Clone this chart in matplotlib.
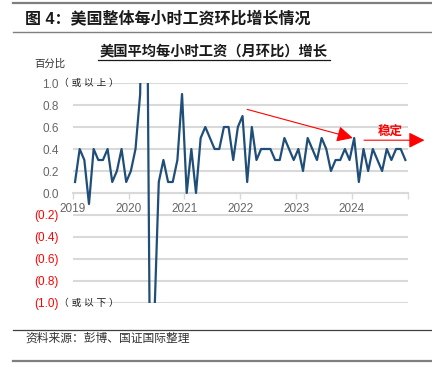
"""
美国整体每小时工资环比增长情况（2019-2024 月度）
"""

import numpy as np
import matplotlib
matplotlib.use("Agg")  # 非交互式后端
import matplotlib.pyplot as plt

plt.rcParams["font.family"] = ["Liberation Sans", "Noto Sans CJK SC", "DejaVu Sans"]

# ========== 数据 ==========

YEARS = ["2019", "2020", "2021", "2022", "2023", "2024"]

# 月环比（%），2019-01 ~ 2024-12
WAGE_MOM = [
    0.1, 0.4, 0.3, -0.1, 0.4, 0.3, 0.3, 0.4, 0.1, 0.2, 0.4, 0.1,   # 2019
    0.2, 0.4, 0.9, 4.7, -1.0, -1.2, 0.1, 0.3, 0.1, 0.1, 0.3, 0.9,  # 2020
    0.0, 0.4, 0.0, 0.5, 0.6, 0.5, 0.4, 0.4, 0.6, 0.6, 0.3, 0.6,    # 2021
    0.7, 0.1, 0.6, 0.3, 0.4, 0.4, 0.4, 0.3, 0.3, 0.5, 0.4, 0.3,    # 2022
    0.4, 0.2, 0.5, 0.4, 0.3, 0.5, 0.4, 0.2, 0.3, 0.3, 0.4, 0.3,    # 2023
    0.5, 0.1, 0.4, 0.2, 0.4, 0.3, 0.2, 0.4, 0.3, 0.4, 0.4, 0.3,    # 2024
]

Y_TICKS = [-1.0, -0.8, -0.6, -0.4, -0.2, 0.0, 0.2, 0.4, 0.6, 0.8, 1.0]

LINE_COLOR = "#1F4E79"
GRID_COLOR = "#D9D9D9"
LABEL_GRAY = "#666666"
RED = "#FF0000"

# ========== 画布 ==========

W, H = 432, 368
fig = plt.figure(figsize=(W / 100, H / 100), dpi=100)


def fx(px):
    return px / W


def fy(py):
    return 1 - py / H


# 页眉 / 页脚横线
fig.add_artist(plt.Line2D([fx(13), 1], [fy(3), fy(3)], color="#7F7F7F", lw=1.6))
fig.add_artist(plt.Line2D([fx(13), 1], [fy(32), fy(32)], color="#7F7F7F", lw=1.0))
fig.add_artist(plt.Line2D([fx(13), 1], [fy(330), fy(330)], color="#404040", lw=0.9))
fig.add_artist(plt.Line2D([fx(13), 1], [fy(361), fy(361)], color="#7F7F7F", lw=1.6))

fig.text(fx(25), fy(18), "图 4：美国整体每小时工资环比增长情况", fontsize=11.5,
         fontweight="bold", color="#1A1A1A", va="center", ha="left")
fig.text(fx(214), fy(52), "美国平均每小时工资（月环比）增长", fontsize=10.3,
         fontweight="bold", color="#1A1A1A", va="center", ha="center")
fig.add_artist(plt.Line2D([fx(98), fx(330)], [fy(60), fy(60)], color="#1A1A1A", lw=0.9))
fig.text(fx(34), fy(64), "百分比", fontsize=7.5, color="#333333", va="center", ha="left")
fig.text(fx(25), fy(339), "资料来源：彭博、国证国际整理", fontsize=8.5,
         color="#333333", va="center", ha="left")

# ========== 折线图 ==========

left, right, top, bottom = 72.7, 407.7, 83, 303
ax = fig.add_axes([fx(left), fy(bottom), fx(right - left), fy(top) - fy(bottom)])

x = np.arange(len(WAGE_MOM)) + 0.5
ax.plot(x, WAGE_MOM, color=LINE_COLOR, lw=1.6, zorder=3)

ax.set_xlim(0, len(WAGE_MOM))
ax.set_ylim(-1.0, 1.0)

ax.set_yticks(Y_TICKS)
ax.set_yticklabels([f"({abs(v):.1f})" if v < 0 else f"{v:.1f}" for v in Y_TICKS])
for lab, v in zip(ax.get_yticklabels(), Y_TICKS):
    lab.set_color(RED if v < 0 else LABEL_GRAY)
ax.tick_params(axis="y", length=0, pad=10, labelsize=8.5)

ax.set_xticks(np.arange(0, len(WAGE_MOM) + 1, 12))
ax.set_xticklabels(YEARS + [""])
ax.tick_params(axis="x", length=4, width=1.0, color=GRID_COLOR, pad=3,
               labelsize=8.5, labelcolor=LABEL_GRAY)

ax.yaxis.grid(True, color=GRID_COLOR, lw=1.5)
ax.set_axisbelow(True)
for side in ["left", "right", "top"]:
    ax.spines[side].set_visible(False)
ax.spines["bottom"].set_position(("data", 0))
ax.spines["bottom"].set_color(GRID_COLOR)
ax.spines["bottom"].set_linewidth(1.5)
ax.patch.set_alpha(0)

# 截断说明
fig.text(fx(59), fy(83), "（ 或 以 上 ）", fontsize=7, color="#1A1A1A", va="center", ha="left")
fig.text(fx(59), fy(303), "（ 或 以 下 ）", fontsize=7, color="#1A1A1A", va="center", ha="left")

# 红色箭头标注
arrow_style = dict(arrowstyle="-|>,head_length=0.8,head_width=0.4",
                   color=RED, lw=0.8, mutation_scale=12, shrinkA=0, shrinkB=0)
ax.annotate("", xy=(60.2, 0.5), xytext=(37.5, 0.76), arrowprops=arrow_style)
ax.annotate("", xy=(75.6, 0.48), xytext=(62.6, 0.48), arrowprops=arrow_style,
            annotation_clip=False)
fig.text(fx(390), fy(133), "稳定", fontsize=9, fontweight="bold", color=RED,
         va="center", ha="center")

fig.savefig("out.png", dpi=100)
